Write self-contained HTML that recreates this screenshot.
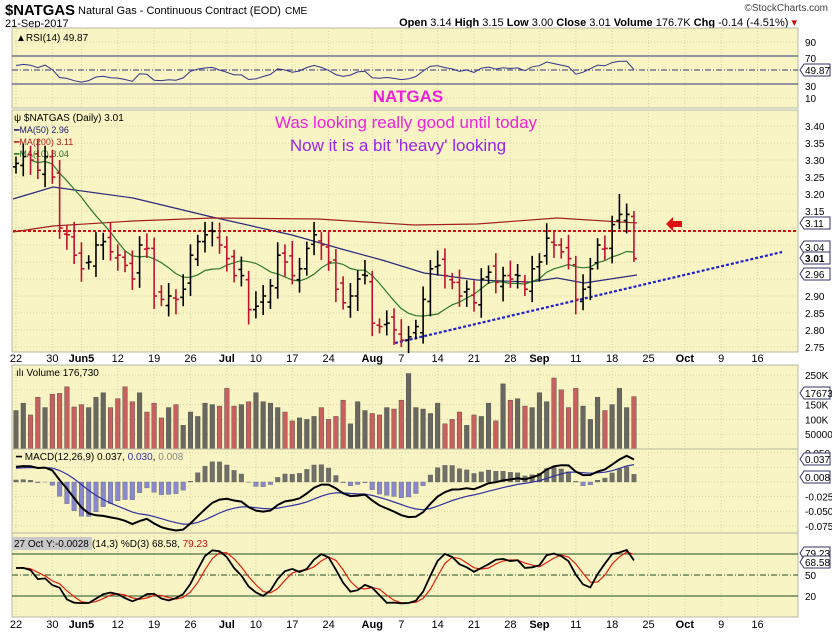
<!DOCTYPE html>
<html><head><meta charset="utf-8"><style>
body{margin:0;background:#fff;width:832px;height:633px;overflow:hidden;font-family:"Liberation Sans",sans-serif}
svg text{font-family:"Liberation Sans",sans-serif}
</style></head><body>
<svg id="s" width="832" height="633" viewBox="0 0 832 633" xmlns="http://www.w3.org/2000/svg">
<text x="5" y="15" font-size="15" font-weight="bold" fill="#000" textLength="70" lengthAdjust="spacingAndGlyphs">$NATGAS</text>
<text x="78" y="14" font-size="11" fill="#000">Natural Gas - Continuous Contract (EOD)</text>
<text x="285" y="14" font-size="10" fill="#000">CME</text>
<text x="828" y="11" font-size="10" fill="#444" text-anchor="end">©StockCharts.com</text>
<text x="5" y="27" font-size="11" fill="#000">21-Sep-2017</text>
<text x="797" y="26" font-size="11" fill="#000" text-anchor="end"><tspan font-weight="bold">Open</tspan> 3.14 <tspan font-weight="bold">High</tspan> 3.15 <tspan font-weight="bold">Low</tspan> 3.00 <tspan font-weight="bold">Close</tspan> 3.01 <tspan font-weight="bold">Volume</tspan> 176.7K <tspan font-weight="bold">Chg</tspan> -0.14 (-4.51%) <tspan fill="#c00">▾</tspan></text>
<g id="g"></g>
</svg>
<script>
const S=document.getElementById('g');let h='';
const L=12,R=798;
const X=i=>16+i*7.27;
function panel(t,b){h+=`<rect x="${L}" y="${t}" width="${R-L}" height="${b-t}" fill="#f8f4c4" stroke="#b8b8a0"/>`;}
const labs=[[0,'22'],[5,'30'],[9,'Jun5',1],[14,'12'],[19,'19'],[24,'26'],[29,'Jul',1],[33,'10'],[38,'17'],[43,'24'],[49,'Aug',1],[53,'7'],[58,'14'],[63,'21'],[68,'28'],[72,'Sep',1],[77,'11'],[82,'18'],[87,'25'],[92,'Oct',1],[97,'9'],[102,'16']];
function vgrid(t,b){labs.forEach(l=>{h+=`<line x1="${X(l[0])}" y1="${t}" x2="${X(l[0])}" y2="${b}" stroke="#d8d4a8" stroke-dasharray="1,2"/>`;});}
function hg(y){h+=`<line x1="${L}" y1="${y}" x2="${R}" y2="${y}" stroke="#d8d4a8" stroke-dasharray="1,2"/>`;}
function rl(y,t,b){h+=`<text x="805" y="${y+4}" font-size="10" fill="#000">${t}</text>`;}
function tag(y,t,bold){h+=`<path d="M800 ${y} l4 -6 h26 v12 h-26z" fill="#fff" stroke="#336"/><text x="805" y="${y+4}" font-size="10" ${bold?'font-weight="bold"':''} fill="#000">${t}</text>`;}
function dates(y){labs.forEach(l=>{h+=`<text x="${X(l[0])}" y="${y}" font-size="11" text-anchor="middle" ${l[2]?'font-weight="bold"':''} fill="#000">${l[1]}</text>`;});}
const C=[3.29,3.31,3.30,3.27,3.31,3.25,3.10,3.08,3.02,2.98,3.00,3.05,3.06,3.03,3.02,2.99,2.95,3.05,3.04,2.90,2.89,2.90,2.89,2.92,3.02,3.06,3.08,3.09,3.05,3.01,2.96,2.96,2.86,2.87,2.90,2.93,3.02,3.00,2.96,2.98,3.04,3.08,3.05,3.00,2.92,2.88,2.90,2.95,2.96,2.82,2.81,2.82,2.80,2.77,2.78,2.81,2.89,2.98,2.99,2.96,2.94,2.90,2.92,2.88,2.95,2.97,2.94,2.96,2.95,2.96,2.92,2.98,3.00,3.07,3.05,3.03,3.01,2.89,2.92,2.98,3.05,3.04,3.11,3.14,3.14,3.01];
const N=C.length;const O=[],H=[],Lo=[];
for(let i=0;i<N;i++){let o=i?C[i-1]+((i*37)%7-3)*0.006:3.28;O.push(o);H.push(Math.max(o,C[i])+0.02+((i*13)%5)*0.006);Lo.push(Math.min(o,C[i])-0.02-((i*17)%5)*0.006);}
H[83]=3.20;Lo[85]=3.00;H[85]=3.15;Lo[53]=2.75;
panel(28,108);vgrid(28,108);
[42,98].forEach(hg);
h+=`<line x1="${L}" y1="56" x2="${R}" y2="56" stroke="#33337a"/><line x1="${L}" y1="84" x2="${R}" y2="84" stroke="#33337a"/><line x1="${L}" y1="70" x2="${R}" y2="70" stroke="#33337a" stroke-dasharray="6,2,1,2"/>`;
rl(42,'90');rl(58,'70');rl(86,'30');rl(98,'10');
let ag=0.02,al=0.015,rp=[];
for(let i=0;i<N;i++){if(i){let d=C[i]-C[i-1];ag=(ag*13+Math.max(d,0))/14;al=(al*13+Math.max(-d,0))/14;}let r=100-100/(1+ag/al);r=50+(r-50)*0.9;rp.push(X(i)+','+(70-(r-50)*0.7).toFixed(1));}
h+=`<polyline points="${rp.join(' ')}" fill="none" stroke="#33338a" stroke-width="1"/>`;
tag(70,'49.87');
h+=`<text x="16" y="41" font-size="10" fill="#000">▲RSI(14) 49.87</text>`;
h+=`<text x="408" y="102" font-size="17" font-weight="bold" fill="#ee22dd" text-anchor="middle">NATGAS</text>`;
panel(110,352);vgrid(110,352);
const PY=p=>126+(3.40-p)*340;
for(let k=0;k<=13;k++){let p=3.40-k*0.05;hg(PY(p));if(![3.10,3.05,3.00,2.95].some(q=>Math.abs(q-p)<0.001))rl(PY(p),p.toFixed(2));}
h+=`<text x="14" y="121" font-size="10" fill="#000">ψ $NATGAS (Daily) 3.01</text>
<text x="14" y="133" font-size="9" fill="#1a1a6a">━MA(50) 2.96</text>
<text x="14" y="145" font-size="9" fill="#b02020">━MA(200) 3.11</text>
<text x="14" y="157" font-size="9" fill="#207020">━MA(10) 3.04</text>`;
h+=`<text x="406" y="128" font-size="17" fill="#ee22dd" text-anchor="middle">Was looking really good until today</text>`;
h+=`<text x="398" y="151" font-size="17" fill="#9922ee" text-anchor="middle">Now it is a bit 'heavy' looking</text>`;
h+=`<polyline points="13,199 53,187 133,198 212,217 292,235 345,250 382,260 424,273 477,280 530,282 557,278 584,283 637,275" fill="none" stroke="#2a2a7a" stroke-width="1.2"/>`;
h+=`<polyline points="13,232 53,226 133,221 212,218 318,219 414,225 477,224 557,218 637,223" fill="none" stroke="#a02020" stroke-width="1.2"/>`;
let m10=[];for(let i=0;i<N;i++){let s=0,n=0;for(let j=Math.max(0,i-9);j<=i;j++){s+=C[j];n++;}m10.push(X(i)+','+PY(s/n).toFixed(1));}
h+=`<polyline points="${m10.slice(2).join(' ')}" fill="none" stroke="#2a7a2a" stroke-width="1.2"/>`;
h+=`<line x1="13" y1="231" x2="${R}" y2="231" stroke="#d01010" stroke-width="2" stroke-dasharray="3,2"/>`;
h+=`<line x1="395" y1="343" x2="782" y2="252" stroke="#2020d0" stroke-width="2.2" stroke-dasharray="3,2"/>`;
h+=`<path d="M666 224 l7 -7 v4 h9 v6 h-9 v4z" fill="#e01010"/>`;
for(let i=0;i<N;i++){let x=X(i),c=(i&&C[i]<C[i-1])?'#c01030':'#000';h+=`<g stroke="${c}" stroke-width="1.6"><line x1="${x}" y1="${PY(H[i])}" x2="${x}" y2="${PY(Lo[i])}"/><line x1="${x-3}" y1="${PY(O[i])}" x2="${x}" y2="${PY(O[i])}"/><line x1="${x}" y1="${PY(C[i])}" x2="${x+3}" y2="${PY(C[i])}"/></g>`;}
tag(223,'3.11');tag(247,'3.04');tag(258,'3.01',1);tag(274,'2.96');
dates(362);
panel(365,449);vgrid(365,449);
const VY=v=>449-v*14.8/50;
[250,200,150,100,50].forEach(v=>hg(VY(v)));
rl(VY(250),'250K');rl(VY(150),'150K');rl(VY(100),'100K');rl(VY(50),'50000');
const V=[130,155,115,175,140,185,188,210,142,150,140,175,190,140,170,210,160,190,125,155,105,140,150,80,125,110,155,150,145,205,145,150,160,190,160,155,140,125,95,105,100,110,140,100,110,165,85,160,130,120,115,140,135,165,255,140,135,120,155,85,100,125,80,115,110,155,95,220,165,170,145,140,190,160,240,200,140,205,145,100,175,130,150,205,140,177];
for(let i=0;i<N;i++){let v=V[i]||120,c=(i&&C[i]<C[i-1])?'#c86060':'#686860';h+=`<rect x="${X(i)-2.3}" y="${VY(v)}" width="4.6" height="${449-VY(v)}" fill="${c}" stroke="#444" stroke-width="0.4"/>`;}
h+=`<text x="16" y="376" font-size="10" fill="#000">ılı Volume 176,730</text>`;
tag(393,'176730');
panel(449,533);vgrid(449,533);
const MY=v=>482-v*584;
[0.05,0.025,0,-0.025,-0.05,-0.075].forEach(v=>hg(MY(v)));
rl(MY(0.05),'0.050');rl(MY(-0.025),'-0.025');rl(MY(-0.05),'-0.050');rl(MY(-0.075),'-0.075');
let e12=3.27,e26=3.245,sg=0.022,mp=[],sp=[];
for(let i=0;i<N;i++){e12+= (C[i]-e12)*2/13;e26+=(C[i]-e26)*2/27;let m=e12-e26;sg+=(m-sg)*0.2;let ms=m*1.05,ss=sg*1.05;mp.push(X(i)+','+MY(ms).toFixed(1));sp.push(X(i)+','+MY(ss).toFixed(1));let hh=(ms-ss)*1.5;h+=`<rect x="${X(i)-2.3}" y="${Math.min(482,MY(hh))}" width="4.6" height="${Math.abs(hh*584)}" fill="${hh>=0?'#707068':'#8888cc'}" stroke="#555" stroke-width="0.3"/>`;}
h+=`<polyline points="${sp.join(' ')}" fill="none" stroke="#3030a0" stroke-width="1.2"/><polyline points="${mp.join(' ')}" fill="none" stroke="#000" stroke-width="2"/>`;
h+=`<text x="16" y="460" font-size="10" fill="#000">━ MACD(12,26,9) 0.037, <tspan fill="#3030a0">0.030</tspan>, <tspan fill="#888">0.008</tspan></text>`;
tag(459,'0.037');tag(477,'0.008');
panel(533,617);vgrid(533,617);
const SY=v=>610-v*0.7;
h+=`<line x1="${L}" y1="${SY(80)}" x2="${R}" y2="${SY(80)}" stroke="#205020"/><line x1="${L}" y1="${SY(20)}" x2="${R}" y2="${SY(20)}" stroke="#205020"/><line x1="${L}" y1="${SY(50)}" x2="${R}" y2="${SY(50)}" stroke="#205020" stroke-dasharray="6,2,1,2"/>`;
rl(SY(50),'50');rl(SY(20),'20');
let raw=[],K=[],D=[];
for(let i=0;i<N;i++){let hi=-9,lo=9;for(let j=Math.max(0,i-13);j<=i;j++){hi=Math.max(hi,H[j]);lo=Math.min(lo,Lo[j]);}raw.push((C[i]-lo)/(hi-lo)*100);let s=0,n=0;for(let j=Math.max(0,i-2);j<=i;j++){s+=raw[j];n++;}K.push(s/n);s=0;n=0;for(let j=Math.max(0,i-2);j<=i;j++){s+=K[j];n++;}D.push(s/n);}
h+=`<polyline points="${D.map((v,i)=>X(i)+','+SY(v).toFixed(1)).join(' ')}" fill="none" stroke="#e02010" stroke-width="1.2"/>`;
h+=`<polyline points="${K.map((v,i)=>X(i)+','+SY(v).toFixed(1)).join(' ')}" fill="none" stroke="#000" stroke-width="1.8"/>`;
h+=`<rect x="12" y="537" width="80" height="13" fill="#c8c8c8"/><text x="14" y="547" font-size="10" fill="#000">27 Oct Y:-0.0028</text><text x="92" y="547" font-size="10" fill="#000">(14,3) %D(3) 68.58, <tspan fill="#c01010">79.23</tspan></text>`;
tag(553,'79.23');tag(562,'68.58');
dates(628);
S.innerHTML=h;
</script>
</body></html>
